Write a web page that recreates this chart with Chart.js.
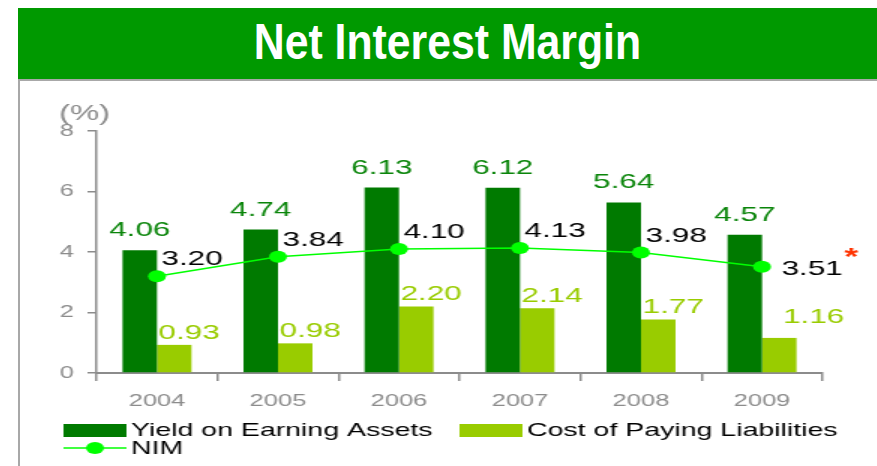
<!DOCTYPE html>
<html>
<head>
<meta charset="utf-8">
<script src="https://cdn.jsdelivr.net/npm/chart.js@4.4.1/dist/chart.umd.min.js"></script>
<style>
  html, body { margin: 0; padding: 0; background: #fff; width: 877px; height: 466px; overflow: hidden; }
  #banner {
    position: absolute; left: 18px; top: 8px; width: 859px; height: 71px;
    background: #009900; color: #fff; text-align: center;
    font-family: 'Liberation Sans', Arial, sans-serif;
    font-weight: bold; font-size: 50px; line-height: 69px;
  }
  /* narrow title face */
  #banner span { display: inline-block; transform: scaleX(0.855); }
  #frame {
    position: absolute; left: 18px; top: 79px; right: 0; bottom: 0;
    border-left: 2px solid #a8a8a8; border-top: 2px solid #a8a8a8;
  }
  /* the source slide was stretched sideways, so the chart is drawn narrow and widened */
  #wrap {
    position: absolute; left: 20px; top: 80px; width: 572px; height: 386px;
    transform: scaleX(1.5); transform-origin: 0 0;
  }
</style>
</head>
<body>
<div id="banner"><span>Net Interest Margin</span></div>
<div id="frame"></div>
<div id="wrap"><canvas id="chart" width="572" height="386"></canvas></div>
<script>
// data
const years = ['2004', '2005', '2006', '2007', '2008', '2009'];
const yieldAssets = [4.06, 4.74, 6.13, 6.12, 5.64, 4.57];
const costLiabilities = [0.93, 0.98, 2.20, 2.14, 1.77, 1.16];
const nim = [3.20, 3.84, 4.10, 4.13, 3.98, 3.51];
const yTicks = [0, 2, 4, 6, 8];

const DARK = '#007a00';
const LIGHT = '#99cc00';
const NIM_GREEN = '#00ff00';
const GREY = '#8c8c8c';
const FONT = "'Liberation Sans', Arial, sans-serif";

// value labels over bars and points
const valueLabels = {
    id: 'valueLabels',
    afterDatasetsDraw(chart) {
        const ctx = chart.ctx;
        ctx.save();
        ctx.font = '21px ' + FONT;
        ctx.textBaseline = 'alphabetic';
        const last = years.length - 1;

        chart.getDatasetMeta(0).data.forEach((bar, i) => {
            ctx.fillStyle = '#0a850a';
            ctx.textAlign = 'center';
            ctx.fillText(yieldAssets[i].toFixed(2), bar.x, bar.y - 14);
        });

        chart.getDatasetMeta(1).data.forEach((bar, i) => {
            ctx.fillStyle = LIGHT;
            ctx.textAlign = 'left';
            const left = bar.x - bar.width / 2;
            if (i === last) ctx.fillText(costLiabilities[i].toFixed(2), left + 14, bar.y - 15);
            else ctx.fillText(costLiabilities[i].toFixed(2), left + 1, bar.y - 6);
        });

        chart.getDatasetMeta(2).data.forEach((pt, i) => {
            ctx.fillStyle = '#000';
            ctx.textAlign = 'left';
            if (i === last) {
                const txt = nim[i].toFixed(2);
                ctx.fillText(txt, pt.x + 13, pt.y + 8);
                const w = ctx.measureText(txt).width;
                ctx.fillStyle = '#ff3300';
                ctx.font = 'bold 24px ' + FONT;
                ctx.fillText('*', pt.x + 14 + w, pt.y - 2);
                ctx.font = '21px ' + FONT;
            } else {
                ctx.fillText(nim[i].toFixed(2), pt.x + 3, pt.y - 11);
            }
        });

        // unit label above the y axis
        ctx.fillStyle = GREY;
        ctx.textAlign = 'center';
        ctx.textBaseline = 'middle';
        ctx.font = '22px ' + FONT;
        ctx.fillText('(%)', chart.chartArea.left - 8, 34);
        ctx.restore();
    }
};

// legend in the bottom-left corner, drawn from the datasets
const cornerLegend = {
    id: 'cornerLegend',
    afterDraw(chart) {
        const ctx = chart.ctx;
        const ds = chart.data.datasets;
        ctx.save();
        ctx.font = '19px ' + FONT;
        ctx.textBaseline = 'middle';
        ctx.textAlign = 'left';
        ctx.fillStyle = '#000';

        const items = [
            { x: 29, y: 350, ds: ds[0] },
            { x: 293, y: 350, ds: ds[1] },
            { x: 29, y: 368, ds: ds[2] }
        ];
        items.forEach(it => {
            if (it.ds.type === 'line') {
                ctx.strokeStyle = it.ds.borderColor;
                ctx.lineWidth = 1.5;
                ctx.beginPath();
                ctx.moveTo(it.x, it.y);
                ctx.lineTo(it.x + 42, it.y);
                ctx.stroke();
                ctx.fillStyle = it.ds.pointBackgroundColor;
                ctx.beginPath();
                ctx.arc(it.x + 21, it.y, 6, 0, Math.PI * 2);
                ctx.fill();
            } else {
                ctx.fillStyle = it.ds.backgroundColor;
                ctx.fillRect(it.x, it.y - 6, 42, 13);
            }
            ctx.fillStyle = '#000';
            ctx.fillText(it.ds.label, it.x + 45, it.y + 1);
        });
        ctx.restore();
    }
};

const chart = new Chart(document.querySelector('#chart'), {
    type: 'bar',
    data: {
        labels: years,
        datasets: [
            {
                label: 'Yield on Earning Assets',
                data: yieldAssets,
                backgroundColor: DARK,
                categoryPercentage: 0.57,
                barPercentage: 1,
                order: 2
            },
            {
                label: 'Cost of Paying Liabilities',
                data: costLiabilities,
                backgroundColor: LIGHT,
                categoryPercentage: 0.57,
                barPercentage: 1,
                order: 2
            },
            {
                type: 'line',
                label: 'NIM',
                data: nim,
                borderColor: NIM_GREEN,
                borderWidth: 1.5,
                pointRadius: 6,
                pointBackgroundColor: NIM_GREEN,
                pointBorderColor: NIM_GREEN,
                pointBorderWidth: 0,
                order: 1
            }
        ]
    },
    options: {
        responsive: false,
        animation: false,
        devicePixelRatio: 1,
        layout: {
            padding: { left: 0, right: 37, top: 51, bottom: 53 }
        },
        scales: {
            y: {
                min: 0,
                max: 8,
                afterFit: (s) => { s.width = 51; },
                afterBuildTicks: (s) => { s.ticks = yTicks.map(v => ({ value: v })); },
                grid: {
                    drawOnChartArea: false,
                    drawTicks: true,
                    tickLength: 6,
                    color: GREY,
                    lineWidth: 1.5
                },
                border: { color: GREY, width: 1.5 },
                ticks: {
                    color: GREY,
                    padding: 9,
                    font: { family: FONT, size: 17 }
                }
            },
            x: {
                afterFit: (s) => { s.height = 40; },
                grid: {
                    offset: true,
                    drawOnChartArea: false,
                    drawTicks: true,
                    tickLength: 8,
                    color: GREY,
                    lineWidth: 1.5
                },
                border: { color: GREY, width: 2 },
                ticks: {
                    color: GREY,
                    padding: 10,
                    font: { family: FONT, size: 17 }
                }
            }
        },
        plugins: {
            legend: { display: false },
            tooltip: { enabled: false }
        }
    },
    plugins: [valueLabels, cornerLegend]
});
</script>
</body>
</html>
